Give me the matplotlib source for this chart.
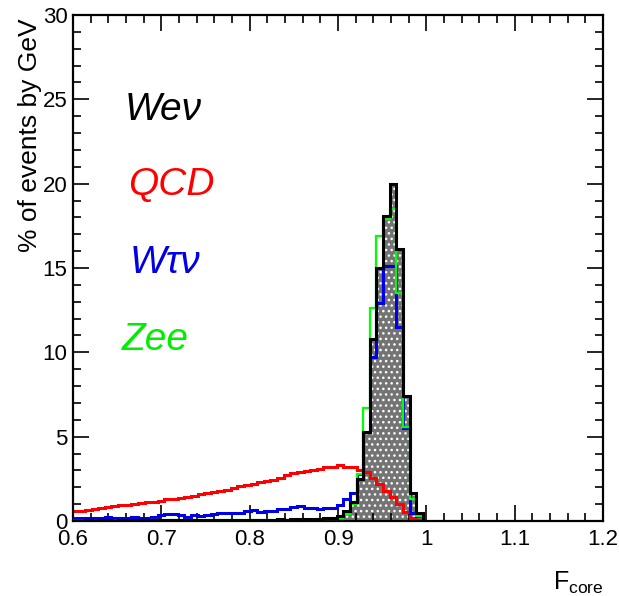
import matplotlib
matplotlib.use("Agg")
import matplotlib.pyplot as plt
import numpy as np
from matplotlib.ticker import MultipleLocator, FuncFormatter

# histogram binning (F_core, 0.0075 wide bins)
BIN_LO = 0.5985
BIN_W = 0.0075

# % of events per bin
wenu = [0.02, 0.02, 0.03, 0.02, 0.03, 0.03, 0.02, 0.03, 0.03, 0.03,
        0.03, 0.04, 0.03, 0.04, 0.04, 0.04, 0.05, 0.04, 0.05, 0.05,
        0.05, 0.06, 0.05, 0.06, 0.06, 0.07, 0.06, 0.07, 0.08, 0.07,
        0.08, 0.09, 0.08, 0.10, 0.10, 0.12, 0.12, 0.14, 0.15, 0.20,
        0.30, 0.60, 1.10, 2.50, 5.30, 10.8, 15.0, 18.1, 20.0, 16.1,
        7.40, 1.65, 0.50]
qcd = [0.60, 0.62, 0.68, 0.72, 0.78, 0.82, 0.88, 0.92, 0.95, 1.02,
       1.08, 1.12, 1.15, 1.20, 1.28, 1.33, 1.38, 1.45, 1.50, 1.60,
       1.68, 1.72, 1.78, 1.85, 1.98, 2.05, 2.12, 2.20, 2.30, 2.35,
       2.45, 2.55, 2.70, 2.85, 2.90, 2.95, 3.00, 3.10, 3.20, 3.22,
       3.30, 3.18, 3.20, 3.05, 2.90, 2.55, 2.20, 1.80, 1.40, 1.00,
       0.55, 0.20, 0.05]
wtaunu = [0.15, 0.18, 0.20, 0.18, 0.20, 0.22, 0.20, 0.18, 0.20, 0.22,
          0.20, 0.18, 0.22, 0.35, 0.40, 0.42, 0.38, 0.25, 0.35, 0.32,
          0.38, 0.40, 0.45, 0.50, 0.45, 0.48, 0.62, 0.66, 0.55, 0.58,
          0.60, 0.70, 0.72, 0.85, 0.90, 0.78, 0.75, 0.72, 0.78, 0.80,
          0.95, 1.30, 1.65, 2.80, 5.30, 9.70, 12.9, 15.1, 15.1, 11.5,
          5.50, 0.50, 0.30]
zee = [0.01, 0.01, 0.02, 0.01, 0.02, 0.02, 0.01, 0.02, 0.02, 0.02,
       0.02, 0.02, 0.03, 0.02, 0.03, 0.03, 0.02, 0.03, 0.03, 0.03,
       0.03, 0.04, 0.03, 0.04, 0.04, 0.04, 0.05, 0.04, 0.05, 0.05,
       0.05, 0.06, 0.06, 0.07, 0.07, 0.08, 0.08, 0.10, 0.10, 0.12,
       0.20, 0.40, 1.00, 2.80, 6.70, 12.6, 16.9, 17.9, 18.5, 13.5,
       5.60, 1.30, 0.30]

labels = ["We\u03bd", "QCD", "W\u03c4\u03bd", "Zee"]

C_RED = "#ff0000"
C_BLUE = "#0000e6"
C_GREEN = "#00ff00"

plt.rcParams["font.family"] = ["Liberation Sans", "DejaVu Sans"]
plt.rcParams["hatch.color"] = "white"
plt.rcParams["hatch.linewidth"] = 1.0
plt.rcParams["mathtext.fontset"] = "custom"
plt.rcParams["mathtext.rm"] = "Liberation Sans"

edges = BIN_LO + BIN_W * np.arange(len(wenu) + 1)

fig = plt.figure(figsize=(6.19, 5.96), dpi=100)
ax = fig.add_axes([73 / 619, 1 - 521 / 596, 530 / 619, 506 / 596])

# W -> e nu : gray fill with white dot pattern
ax.stairs(wenu, edges, fill=True, facecolor="#747474", edgecolor="white",
          hatch="...", linewidth=0, zorder=1)
ax.stairs(qcd, edges, color=C_RED, lw=2.2, zorder=2)
ax.stairs(wtaunu, edges, color=C_BLUE, lw=2.2, zorder=3)
ax.stairs(zee, edges, color=C_GREEN, lw=1.6, zorder=4)
ax.stairs(wenu, edges, color="black", lw=2.2, zorder=5)

ax.set_xlim(0.6, 1.2)
ax.set_ylim(0, 30)
ax.xaxis.set_major_locator(MultipleLocator(0.1))
ax.xaxis.set_minor_locator(MultipleLocator(0.02))
ax.yaxis.set_major_locator(MultipleLocator(5))
ax.yaxis.set_minor_locator(MultipleLocator(1))
ax.xaxis.set_major_formatter(FuncFormatter(lambda v, p: f"{v:g}"))
ax.tick_params(which="both", direction="in", top=True, right=True,
               width=1.2, labelsize=16)
ax.tick_params(which="major", length=11.5)
ax.tick_params(which="minor", length=5.8)
ax.tick_params(axis="x", pad=6)
ax.tick_params(axis="y", pad=4)
for s in ax.spines.values():
    s.set_linewidth(1.6)

fig.text(30 / 619, 1 - 18 / 596, "% of events by GeV", rotation=90,
         ha="center", va="top", fontsize=19)
fig.text(604 / 619, 1 - 590 / 596, r"F$_{\rm core}$", ha="right",
         va="baseline", fontsize=18)

# legend-style labels
tx = [0.098, 0.103, 0.107, 0.092]
ty = [0.792, 0.644, 0.490, 0.338]
tcol = ["black", C_RED, C_BLUE, "#00ee00"]
for lab, x, y, c in zip(labels, tx, ty, tcol):
    ax.text(x, y, lab, transform=ax.transAxes, color=c, fontsize=28,
            style="italic", va="baseline", ha="left")

fig.savefig("out.png", dpi=100, facecolor="white")
